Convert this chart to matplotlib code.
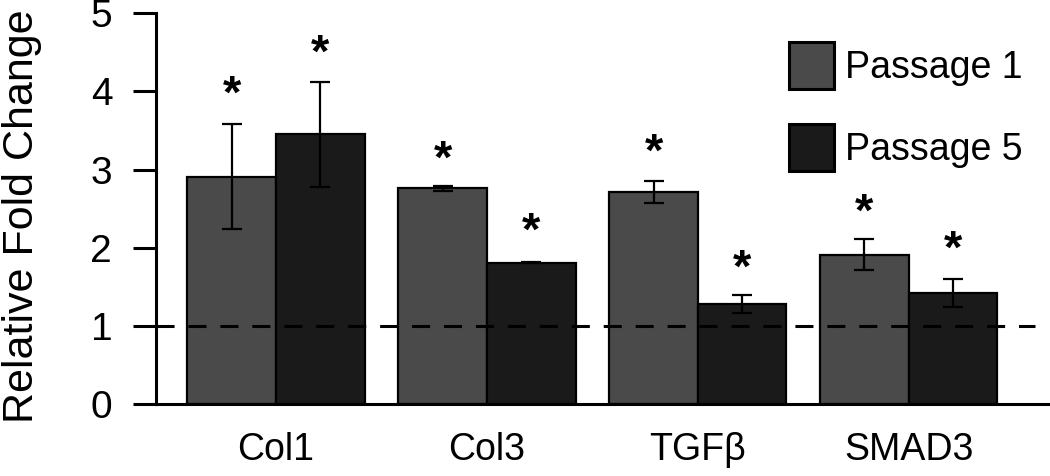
import matplotlib
matplotlib.use("Agg")
import matplotlib.pyplot as plt
import numpy as np

plt.rcParams['font.family'] = ['Liberation Sans', 'DejaVu Sans']
plt.rcParams['lines.scale_dashes'] = False

categories = ["Col1", "Col3", "TGF\u03b2", "SMAD3"]
series_names = ["Passage 1", "Passage 5"]
passage1 = [2.91, 2.76, 2.71, 1.91]
passage1_err = [0.67, 0.03, 0.14, 0.20]
passage5 = [3.45, 1.81, 1.28, 1.42]
passage5_err = [0.67, 0.01, 0.11, 0.18]
passage1_star = [4.04, 3.22, 3.30, 2.54]
passage5_star = [4.57, 2.29, 1.82, 2.06]
yticks = [0, 1, 2, 3, 4, 5]
baseline = 1.0

colors = ["#4a4a4a", "#1a1a1a"]

fig = plt.figure(figsize=(10.5, 4.76), dpi=100)
ax = fig.add_axes([156/1050, 1 - 404/476, (1048-156)/1050, (404-13.3)/476])

x = np.arange(len(categories))
w = 0.42
star_fs = 34
for vals, errs, stars, off, col, name in [
        (passage1, passage1_err, passage1_star, -w/2, colors[0], series_names[0]),
        (passage5, passage5_err, passage5_star, w/2, colors[1], series_names[1])]:
    ax.bar(x + off, vals, width=w, color=col, edgecolor='black', linewidth=1.6,
           label=name, zorder=2)
    ax.errorbar(x + off, vals, yerr=errs, fmt='none', ecolor='black',
                elinewidth=1.6, capsize=7, capthick=1.6, zorder=3)
    for xi, s in zip(x + off, stars):
        ax.annotate("*", (xi, s), xytext=(0, -0.42 * star_fs),
                    textcoords='offset points', ha='center', va='baseline',
                    fontsize=star_fs, fontweight='bold', zorder=4)

ax.axhline(baseline, xmin=0, xmax=0.985, color='black', linewidth=2.2,
           dashes=(13, 10), zorder=5)

ax.set_xlim(-0.569, 3.66)
ax.set_ylim(0, 5)
ax.set_yticks(yticks)
ax.set_yticklabels([str(t) for t in yticks], fontsize=28)
ax.set_xticks(x)
ax.set_xticklabels(categories, fontsize=27)
ax.tick_params(axis='y', direction='out', length=16.5, width=2.2, pad=15)
ax.tick_params(axis='x', length=0, pad=20)
for s in ['top', 'right']:
    ax.spines[s].set_visible(False)
for s in ['left', 'bottom']:
    ax.spines[s].set_linewidth(2.2)
ax.set_ylabel("Relative Fold Change", fontsize=31)
ax.yaxis.set_label_coords(-0.1278, 0.481)

leg = ax.legend(loc='upper left', bbox_to_anchor=(789/1050, 1 - 42/476),
                bbox_transform=fig.transFigure, frameon=False, fontsize=27,
                handlelength=1.2, handleheight=1.55, handletextpad=0.3,
                labelspacing=0.93, borderpad=0, borderaxespad=0)
for p in leg.get_patches():
    p.set_linewidth(2.2)

fig.savefig("out.png", dpi=100)
